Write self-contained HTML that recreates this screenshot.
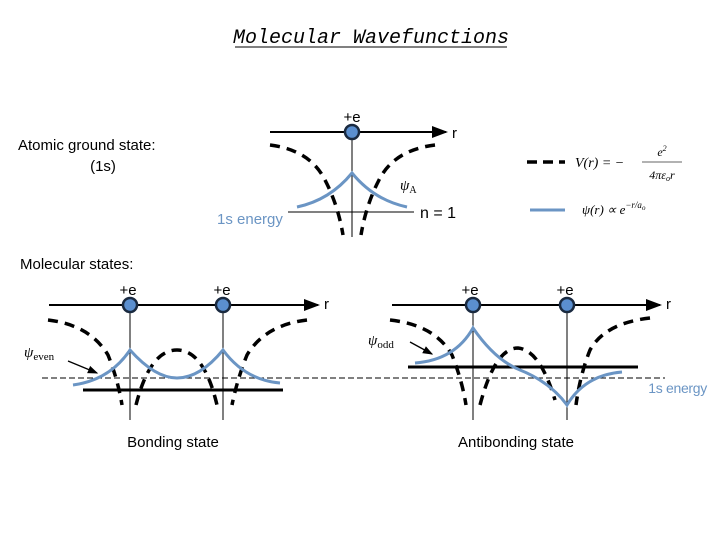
<!DOCTYPE html>
<html><head><meta charset="utf-8"><style>
html,body{margin:0;padding:0;background:#fff;}
body{width:720px;height:540px;overflow:hidden;position:relative;}
svg{position:absolute;left:0;top:0;}
text{font-family:"Liberation Sans",sans-serif;}
</style></head><body>
<svg width="720" height="540" viewBox="0 0 720 540">
<defs>
<marker id="ar" markerWidth="8" markerHeight="8" refX="7" refY="4" orient="auto"><path d="M0,1 L8,4 L0,7 z" fill="#000"/></marker>
<marker id="ar2" markerWidth="8" markerHeight="8" refX="7" refY="4" orient="auto"><path d="M0,1 L8,4 L0,7 z" fill="#000"/></marker>
</defs>
<text x="371" y="43" text-anchor="middle" font-family="Liberation Mono" font-style="italic" font-size="20" style="font-family:'Liberation Mono',monospace">Molecular Wavefunctions</text>
<line x1="235" y1="47" x2="507" y2="47" stroke="#000" stroke-width="1"/>

<text x="18" y="150" font-size="15">Atomic ground state:</text>
<text x="103" y="171" font-size="15" text-anchor="middle">(1s)</text>
<text x="20" y="269" font-size="15">Molecular states:</text>

<!-- top atomic -->
<line x1="270" y1="132" x2="446" y2="132" stroke="#000" stroke-width="2" marker-end="url(#ar)"/>
<text x="452" y="138" font-size="15">r</text>
<line x1="352" y1="132" x2="352" y2="237" stroke="#000" stroke-width="1"/>
<line x1="288" y1="212" x2="414" y2="212" stroke="#000" stroke-width="1"/>
<text x="420" y="218" font-size="16">n = 1</text>
<text x="217" y="224" font-size="15" fill="#6b95c4">1s energy</text>
<path d="M270,145 Q310,150 325,180 Q338,205 343,235" fill="none" stroke="#000" stroke-width="3.5" stroke-dasharray="10,7"/>
<path d="M435,145 Q394,150 379,180 Q366,205 361,235" fill="none" stroke="#000" stroke-width="3.5" stroke-dasharray="10,7"/>
<path d="M297,207 Q330,200 352,173 Q374,200 407,207" fill="none" stroke="#6b95c4" stroke-width="3"/>
<circle cx="352" cy="132" r="7" fill="#5b8fcf" stroke="#1a2a40" stroke-width="2.5"/>
<text x="352" y="122" font-size="15" text-anchor="middle">+e</text>
<text x="400" y="190" font-size="15" font-family="Liberation Serif" font-style="italic" style="font-family:'Liberation Serif',serif">ψ<tspan font-size="10" dy="3" font-style="normal">A</tspan></text>

<!-- legend -->
<line x1="527" y1="162" x2="565" y2="162" stroke="#000" stroke-width="3.5" stroke-dasharray="10,6"/>
<text x="575" y="167" font-size="14" font-family="Liberation Serif" font-style="italic" style="font-family:'Liberation Serif',serif">V(r) = −</text>
<text x="662" y="156" font-size="12" font-family="Liberation Serif" font-style="italic" text-anchor="middle" style="font-family:'Liberation Serif',serif">e<tspan font-size="8" dy="-5">2</tspan></text>
<line x1="642" y1="162" x2="682" y2="162" stroke="#333" stroke-width="0.8"/>
<text x="662" y="179" font-size="12" font-family="Liberation Serif" font-style="italic" text-anchor="middle" style="font-family:'Liberation Serif',serif">4πε<tspan font-size="8" dy="2">o</tspan><tspan dy="-2">r</tspan></text>
<line x1="530" y1="210" x2="565" y2="210" stroke="#6b95c4" stroke-width="3"/>
<text x="582" y="214" font-size="13" font-family="Liberation Serif" font-style="italic" style="font-family:'Liberation Serif',serif">ψ(r) ∝ e<tspan font-size="9" dy="-6">−r/a<tspan font-size="7" dy="2">o</tspan></tspan></text>

<!-- dashed baseline -->
<line x1="42" y1="378" x2="665" y2="378" stroke="#000" stroke-width="1" stroke-dasharray="6,3"/>

<!-- bonding -->
<line x1="49" y1="305" x2="318" y2="305" stroke="#000" stroke-width="2" marker-end="url(#ar)"/>
<text x="324" y="309" font-size="15">r</text>
<line x1="130" y1="305" x2="130" y2="420" stroke="#000" stroke-width="1"/>
<line x1="223" y1="305" x2="223" y2="420" stroke="#000" stroke-width="1"/>
<line x1="83" y1="390" x2="283" y2="390" stroke="#000" stroke-width="3"/>
<path d="M48,320 Q90,325 108,355 Q118,380 122,405" fill="none" stroke="#000" stroke-width="3.5" stroke-dasharray="10,7"/>
<path d="M136,405 Q150,350 177,350 Q204,350 217,405" fill="none" stroke="#000" stroke-width="3.5" stroke-dasharray="10,7"/>
<path d="M307,320 Q265,325 247,355 Q237,380 232,405" fill="none" stroke="#000" stroke-width="3.5" stroke-dasharray="10,7"/>
<path d="M73,385 Q110,380 130,350 Q155,378 177,378 Q200,378 223,350 Q245,380 280,383" fill="none" stroke="#6b95c4" stroke-width="3"/>
<circle cx="130" cy="305" r="7" fill="#5b8fcf" stroke="#1a2a40" stroke-width="2.5"/>
<circle cx="223" cy="305" r="7" fill="#5b8fcf" stroke="#1a2a40" stroke-width="2.5"/>
<text x="128" y="295" font-size="15" text-anchor="middle">+e</text>
<text x="222" y="295" font-size="15" text-anchor="middle">+e</text>
<text x="24" y="357" font-size="15" font-family="Liberation Serif" font-style="italic" style="font-family:'Liberation Serif',serif">ψ<tspan font-size="11" dy="3" font-style="normal">even</tspan></text>
<line x1="68" y1="361" x2="97" y2="373" stroke="#000" stroke-width="1.3" marker-end="url(#ar2)"/>
<text x="173" y="447" font-size="15" text-anchor="middle">Bonding state</text>

<!-- antibonding -->
<line x1="392" y1="305" x2="660" y2="305" stroke="#000" stroke-width="2" marker-end="url(#ar)"/>
<text x="666" y="309" font-size="15">r</text>
<line x1="473" y1="305" x2="473" y2="420" stroke="#000" stroke-width="1"/>
<line x1="567" y1="305" x2="567" y2="420" stroke="#000" stroke-width="1"/>
<line x1="408" y1="367" x2="638" y2="367" stroke="#000" stroke-width="3"/>
<path d="M390,320 Q435,325 452,355 Q462,380 466,405" fill="none" stroke="#000" stroke-width="3.5" stroke-dasharray="10,7"/>
<path d="M480,405 Q495,348 518,348 Q540,350 555,400" fill="none" stroke="#000" stroke-width="3.5" stroke-dasharray="10,7"/>
<path d="M650,318 Q605,323 590,350 Q580,375 576,405" fill="none" stroke="#000" stroke-width="3.5" stroke-dasharray="10,7"/>
<path d="M415,363 Q455,360 473,328 Q495,360 520,370 Q550,382 567,405 Q585,375 622,372" fill="none" stroke="#6b95c4" stroke-width="3"/>
<circle cx="473" cy="305" r="7" fill="#5b8fcf" stroke="#1a2a40" stroke-width="2.5"/>
<circle cx="567" cy="305" r="7" fill="#5b8fcf" stroke="#1a2a40" stroke-width="2.5"/>
<text x="470" y="295" font-size="15" text-anchor="middle">+e</text>
<text x="565" y="295" font-size="15" text-anchor="middle">+e</text>
<text x="368" y="345" font-size="15" font-family="Liberation Serif" font-style="italic" style="font-family:'Liberation Serif',serif">ψ<tspan font-size="11" dy="3" font-style="normal">odd</tspan></text>
<line x1="410" y1="342" x2="432" y2="354" stroke="#000" stroke-width="1.3" marker-end="url(#ar2)"/>
<text x="707" y="393" font-size="14" fill="#6b95c4" text-anchor="end" letter-spacing="-0.3">1s energy</text>
<text x="516" y="447" font-size="15" text-anchor="middle">Antibonding state</text>
</svg>
</body></html>
